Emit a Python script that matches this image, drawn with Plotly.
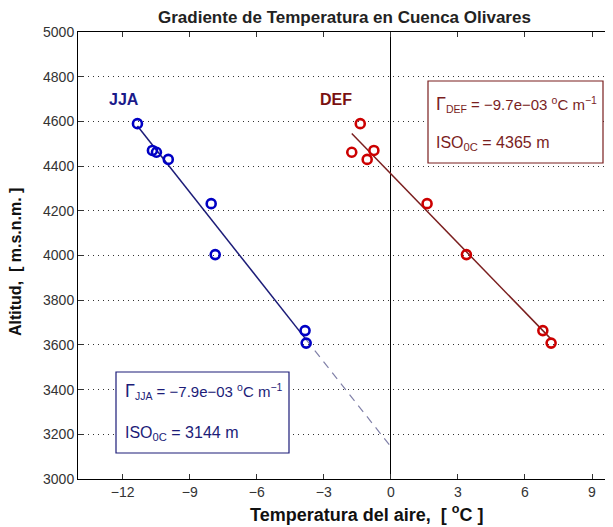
import plotly.graph_objects as go

# Data
altitud = [4590, 4470, 4462, 4430, 4232, 4004, 3664, 3608]
temp_jja = [-11.34, -10.67, -10.49, -9.96, -8.04, -7.86, -3.84, -3.79]
temp_def = [-1.37, -0.76, -1.75, -1.06, 1.62, 3.38, 6.80, 7.17]

gamma_jja = -7.9e-03
iso_jja = 3144
gamma_def = -9.7e-03
iso_def = 4365

x_ticks = [-12, -9, -6, -3, 0, 3, 6, 9]
y_ticks = [3000, 3200, 3400, 3600, 3800, 4000, 4200, 4400, 4600, 4800, 5000]

C_JJA_MK = "#0000c4"
C_JJA_LN = "#1c1c78"
C_JJA_DASH = "#8080a8"
C_DEF_MK = "#cc0000"
C_DEF_LN = "#7a1e1e"
C_JJA_TXT = "#1c1c78"
C_DEF_TXT = "#7a1e1e"

# page offset (default body margin) and window size
OFF = 8
WIN_W, WIN_H = 613, 527
W, H = WIN_W - OFF, WIN_H - OFF
# plot-area geometry in window pixels
L, R, T, B = 78, 611, 32, 479
PW, PH = R - L, B - T


def px(x):
    return (x - L) / PW


def py(y):
    return (B - y) / PH


def fit_line(tmin, tmax, gamma, iso):
    ts = [tmin, tmax]
    return ts, [iso + t / gamma for t in ts]


fig = go.Figure()

tx, tz = fit_line(min(temp_jja), max(temp_jja), gamma_jja, iso_jja)
fig.add_trace(go.Scatter(x=tx, y=tz, mode="lines", line=dict(color=C_JJA_LN, width=1.5), hoverinfo="skip"))
dx, dz = fit_line(max(temp_jja), 0, gamma_jja, iso_jja)
fig.add_trace(go.Scatter(x=dx, y=dz, mode="lines", line=dict(color=C_JJA_DASH, width=1.2, dash="8px,6px"), hoverinfo="skip"))

fx, fz = fit_line(min(temp_def), max(temp_def), gamma_def, iso_def)
fig.add_trace(go.Scatter(x=fx, y=fz, mode="lines", line=dict(color=C_DEF_LN, width=1.5), hoverinfo="skip"))

fig.add_trace(go.Scatter(x=temp_jja, y=altitud, mode="markers",
                         marker=dict(symbol="circle-open", size=9, color=C_JJA_MK, line=dict(width=2.6, color=C_JJA_MK))))
fig.add_trace(go.Scatter(x=temp_def, y=altitud, mode="markers",
                         marker=dict(symbol="circle-open", size=9, color=C_DEF_MK, line=dict(width=2.6, color=C_DEF_MK))))

font = "Liberation Sans, Arial, sans-serif"

fig.update_layout(
    width=W, height=H,
    margin=dict(l=L - OFF, r=WIN_W - R, t=T - OFF, b=WIN_H - B, autoexpand=False),
    paper_bgcolor="white", plot_bgcolor="white",
    showlegend=False,
    font=dict(family=font, size=14, color="#222222"),
    xaxis=dict(range=[-14, 9.85], tickvals=x_ticks,
               ticktext=["\u2212" + str(-v) if v < 0 else str(v) for v in x_ticks],
               ticks="inside", ticklen=5, tickcolor="#333", mirror="ticks", showline=True, linecolor="black", linewidth=1,
               showgrid=False, zeroline=True, zerolinecolor="black", zerolinewidth=1, automargin=False,
               tickfont=dict(size=14, color="#333")),
    yaxis=dict(range=[3000, 5000], tickvals=y_ticks,
               ticks="inside", ticklen=5, tickcolor="#333", mirror="ticks", showline=True, linecolor="black", linewidth=1,
               showgrid=True, gridcolor="#333333", griddash="1px,4px", gridwidth=1, zeroline=False, automargin=False,
               tickfont=dict(size=14, color="#333")),
)

fig.add_shape(type="rect", xref="paper", yref="paper", x0=px(116), x1=px(289), y0=py(453), y1=py(372),
              line=dict(color=C_JJA_LN, width=1.2), fillcolor="white", layer="above")
fig.add_shape(type="rect", xref="paper", yref="paper", x0=px(428), x1=px(603), y0=py(163), y1=py(81),
              line=dict(color=C_DEF_LN, width=1.2), fillcolor="white", layer="above")

BOX_FS = 15
ann = [
    dict(text="<b>Gradiente de Temperatura en Cuenca Olivares</b>", xref="paper", yref="paper",
         x=px((L + R) / 2), y=py(18), xanchor="center", yanchor="middle", showarrow=False,
         font=dict(size=17, color="#222")),
    dict(text="<b>Temperatura del aire,  [ <sup>o</sup>C ]</b>", xref="paper", yref="paper",
         x=px(366), y=py(513), xanchor="center", yanchor="middle", showarrow=False,
         font=dict(size=18, color="#111")),
    dict(text="<b>Altitud,  [ m.s.n.m. ]</b>", xref="paper", yref="paper", textangle=-90,
         x=px(15), y=py(262), xanchor="center", yanchor="middle", showarrow=False,
         font=dict(size=16, color="#111")),
    dict(text="<span style='font-size:18px'>\u0393</span><sub>JJA</sub> = \u22127.9e\u221203 <sup>o</sup>C m<sup>\u22121</sup>",
         xref="paper", yref="paper", x=px(123), y=py(391), xanchor="left", yanchor="middle",
         showarrow=False, font=dict(size=BOX_FS, color=C_JJA_TXT)),
    dict(text="ISO<sub>0C</sub> = 3144 m",
         xref="paper", yref="paper", x=px(123), y=py(433), xanchor="left", yanchor="middle",
         showarrow=False, font=dict(size=BOX_FS + 1, color=C_JJA_TXT)),
    dict(text="<span style='font-size:18px'>\u0393</span><sub>DEF</sub> = \u22129.7e\u221203 <sup>o</sup>C m<sup>\u22121</sup>",
         xref="paper", yref="paper", x=px(434), y=py(104), xanchor="left", yanchor="middle",
         showarrow=False, font=dict(size=BOX_FS, color=C_DEF_TXT)),
    dict(text="ISO<sub>0C</sub> = 4365 m",
         xref="paper", yref="paper", x=px(434), y=py(143), xanchor="left", yanchor="middle",
         showarrow=False, font=dict(size=BOX_FS + 1, color=C_DEF_TXT)),
    dict(text="<b>JJA</b>", xref="paper", yref="paper", x=px(124), y=py(100),
         xanchor="center", yanchor="middle", showarrow=False, font=dict(size=16, color="#1a1a8a")),
    dict(text="<b>DEF</b>", xref="paper", yref="paper", x=px(336), y=py(100),
         xanchor="center", yanchor="middle", showarrow=False, font=dict(size=16, color="#7a1010")),
]
fig.update_layout(annotations=ann)

fig.write_html("out.html")
